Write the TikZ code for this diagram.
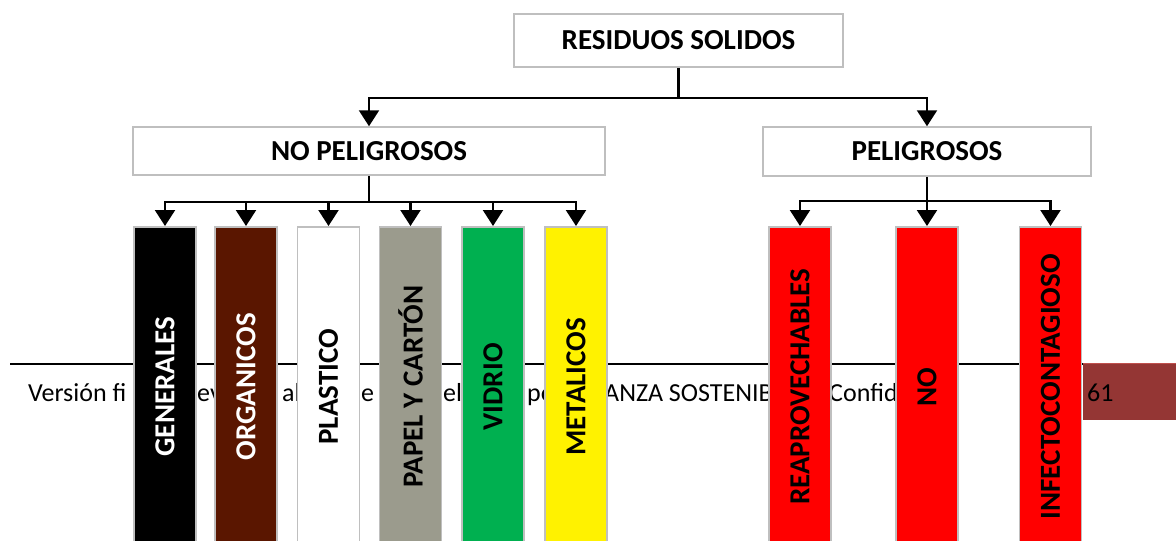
\documentclass[tikz,border=0pt]{standalone}
\usepackage{fontspec}
\setmainfont{Carlito}
\usetikzlibrary{arrows.meta}
\definecolor{organico}{HTML}{5A1600}
\definecolor{papel}{HTML}{9B9B8D}
\definecolor{vidrio}{HTML}{00B050}
\definecolor{pie}{HTML}{943634}
\definecolor{pieborde}{HTML}{C0504D}
\tikzset{
  caja/.style={draw=gray!50, line width=1.5pt, fill=white, inner sep=0pt,
    font=\bfseries\fontsize{29}{29}\selectfont},
  barra/.style={draw=gray!50, line width=1.5pt, minimum width=62pt,
    minimum height=320pt, inner sep=0pt, anchor=north},
  rotulo/.style={rotate=90, inner sep=0pt, font=\bfseries\fontsize{29}{29}\selectfont},
  linea/.style={line width=2.2pt},
  flecha/.style={line width=2.2pt, -{Triangle[width=20pt,length=16pt]}},
  pietexto/.style={anchor=base west, inner sep=0pt, font=\fontsize{26}{26}\selectfont}
}
\begin{document}
\begin{tikzpicture}[x=1pt,y=-1pt]
\useasboundingbox (0,0) rectangle (1176,541);
\clip (0,0) rectangle (1176,541);
% pie de pagina
\draw[line width=1.5pt] (10,364) -- (1083,364);
\node[pietexto] (pie1) at (28,401) {Versión fi};
\node[pietexto] (pie2) at (197,401) {ev};
\node[pietexto] (pie3) at (282,401) {al};
\node[pietexto] (pie4) at (361,401) {e A};
\node[pietexto] (pie5) at (443,401) {el};
\node[pietexto] (pie6) at (527,401) {po};
\node[pietexto] (pie7) at (604,401) {ANZA SOSTENIB};
\node[pietexto] (pie8) at (829,401) {Confid};
\fill[pie] (1083,363) rectangle (1180,420);
\draw[pieborde, line width=1pt] (1083,363.5) -- (1180,363.5);
\node[pietexto] (pagina) at (1087,401) {61};
% jerarquia
\node[caja, minimum width=329pt, minimum height=53pt] (residuos) at (678.5,40.5) {RESIDUOS SOLIDOS};
\node[caja, minimum width=472pt, minimum height=48pt] (nopel) at (369,151) {NO PELIGROSOS};
\node[caja, minimum width=328pt, minimum height=49pt] (pel) at (927,151.5) {PELIGROSOS};
\draw[linea] (residuos.south) -- ++(0,30) coordinate (nudo1);
\draw[flecha] (nudo1) -| (nopel.north);
\draw[flecha] (nudo1) -| (pel.north);
% barras
\node[barra, fill=black] (gen) at (165,226) {};
\node[barra, fill=organico] (org) at (246,226) {};
\node[barra, fill=white] (pla) at (328.5,226) {};
\node[barra, fill=papel] (pap) at (410.5,226) {};
\node[barra, fill=vidrio] (vid) at (493,226) {};
\node[barra, fill=yellow] (met) at (576,226) {};
\node[barra, fill=red] (rea) at (800,226) {};
\node[barra, fill=red] (nor) at (927,226) {};
\node[barra, fill=red] (inf) at (1050.5,226) {};
\node[rotulo, text=white] (tgen) at (gen) {GENERALES};
\node[rotulo, text=white] (torg) at (org) {ORGANICOS};
\node[rotulo] (tpla) at (pla) {PLASTICO};
\node[rotulo] (tpap) at (pap) {PAPEL Y CARTÓN};
\node[rotulo] (tvid) at (vid) {VIDRIO};
\node[rotulo] (tmet) at (met) {METALICOS};
\node[rotulo] (trea) at (rea) {REAPROVECHABLES};
\node[rotulo] (tnor) at (nor) {NO};
\node[rotulo] (tinf) at (inf) {INFECTOCONTAGIOSO};
\draw[linea] (nopel.south) -- ++(0,26) coordinate (nudo2);
\draw[flecha] (nudo2) -| (gen.north);
\draw[flecha] (nudo2) -| (org.north);
\draw[flecha] (nudo2) -| (pla.north);
\draw[flecha] (nudo2) -| (pap.north);
\draw[flecha] (nudo2) -| (vid.north);
\draw[flecha] (nudo2) -| (met.north);
\draw[linea] (pel.south) -- ++(0,24) coordinate (nudo3);
\draw[flecha] (nudo3) -| (rea.north);
\draw[flecha] (nudo3) -| (nor.north);
\draw[flecha] (nudo3) -| (inf.north);
\end{tikzpicture}
\end{document}
